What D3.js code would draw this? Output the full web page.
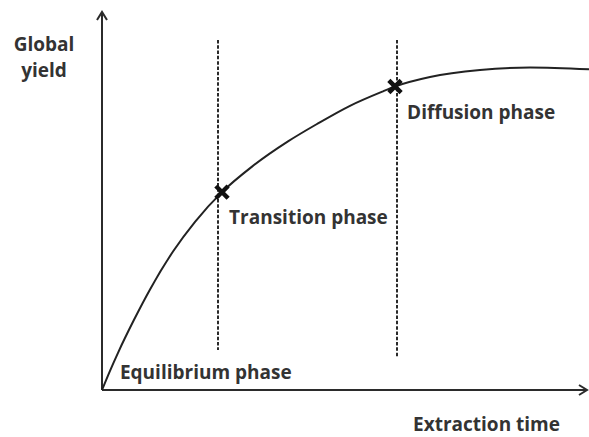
<!DOCTYPE html>
<html>
<head>
<meta charset="utf-8">
<script src="https://cdn.jsdelivr.net/npm/d3@7"></script>
<style>
  html, body { margin: 0; padding: 0; background: #fff; }
  svg { display: block; }
  text { font-family: "Open Sans", "DejaVu Sans", sans-serif; font-weight: bold; fill: #333; }
</style>
</head>
<body>
<svg id="chart" width="589" height="437"></svg>
<script>
// ---- data ----
const extractionTime = [0, 1.65, 3.3, 6.6, 9.9, 14.64, 19.18, 24.74, 30.93, 38.35, 44.33, 51.13, 57.94, 60.41, 67.63, 77.94, 88.25, 100.41];
const globalYield    = [0, 5.08, 9.84, 18.57, 26.61, 36.64, 44.5, 52.35, 59.1, 65.77, 70.37, 75.19, 79.02, 80.29, 82.8, 84.66, 85.32, 84.84];
const phaseBoundaryTime = [24.0, 60.8];
const phaseBoundaryTop = [92.6, 92.6];
const phaseBoundaryBottom = [10.6, 8.7];
const markerTime = [24.74, 60.41];
const markerYield = [52.35, 80.29];
const phaseLabels = ["Equilibrium phase", "Transition phase", "Diffusion phase"];
const phaseLabelTime = [3.7, 26.2, 62.9];
const phaseLabelYield = [2.9, 43.9, 71.7];
const axisLabelX = "Extraction time";
const axisLabelY = ["Global", "yield"];

// ---- scales ----
const svg = d3.select("#chart");
const x = d3.scaleLinear().domain([0, 100]).range([102, 587]);
const y = d3.scaleLinear().domain([0, 100]).range([390, 12]);

const ink = "#2b2b2b";

// axes
svg.append("line").attr("x1", x(0)).attr("x2", x(0)).attr("y1", y(0)).attr("y2", y(100))
  .attr("stroke", ink).attr("stroke-width", 2);
svg.append("line").attr("x1", x(0)).attr("x2", x(100)).attr("y1", y(0)).attr("y2", y(0))
  .attr("stroke", ink).attr("stroke-width", 2);
// arrowheads
svg.append("path")
  .attr("d", `M${x(0)-5},${y(100)+8} L${x(0)},${y(100)} L${x(0)+5},${y(100)+8}`)
  .attr("fill", "none").attr("stroke", ink).attr("stroke-width", 2);
svg.append("path")
  .attr("d", `M${x(100)-8},${y(0)-5} L${x(100)},${y(0)} L${x(100)-8},${y(0)+5}`)
  .attr("fill", "none").attr("stroke", ink).attr("stroke-width", 2);

// dashed phase boundaries
svg.selectAll("line.phase").data(phaseBoundaryTime).join("line")
  .attr("class", "phase")
  .attr("x1", d => Math.round(x(d))).attr("x2", d => Math.round(x(d)))
  .attr("y1", (d, i) => y(phaseBoundaryTop[i]))
  .attr("y2", (d, i) => y(phaseBoundaryBottom[i]))
  .attr("stroke", "#2a2a2a").attr("stroke-width", 2)
  .attr("stroke-dasharray", "3.5,1.8");

// curve
const pts = extractionTime.map((t, i) => [t, globalYield[i]]);
const line = d3.line().x(d => x(d[0])).y(d => y(d[1])).curve(d3.curveMonotoneX);
svg.append("path").datum(pts).attr("d", line)
  .attr("fill", "none").attr("stroke", "#222").attr("stroke-width", 2);

// markers
svg.selectAll("path.marker").data(markerTime).join("path")
  .attr("class", "marker")
  .attr("transform", (d, i) => `translate(${x(d)},${y(markerYield[i])})`)
  .attr("d", d3.symbol().type(d3.symbolX).size(100)())
  .attr("fill", "none").attr("stroke", "#111").attr("stroke-width", 4.5);

// phase labels
svg.selectAll("text.phaseLabel").data(phaseLabels).join("text")
  .attr("class", "phaseLabel")
  .attr("x", (d, i) => x(phaseLabelTime[i]))
  .attr("y", (d, i) => y(phaseLabelYield[i]))
  .attr("font-size", 19)
  .text(d => d);

// axis labels
svg.append("text").attr("x", 560).attr("y", 431).attr("text-anchor", "end")
  .attr("font-size", 19).text(axisLabelX);
svg.selectAll("text.ylab").data(axisLabelY).join("text")
  .attr("class", "ylab")
  .attr("x", 44).attr("y", (d, i) => 51 + i * 26)
  .attr("text-anchor", "middle").attr("font-size", 19)
  .text(d => d);
</script>
</body>
</html>
